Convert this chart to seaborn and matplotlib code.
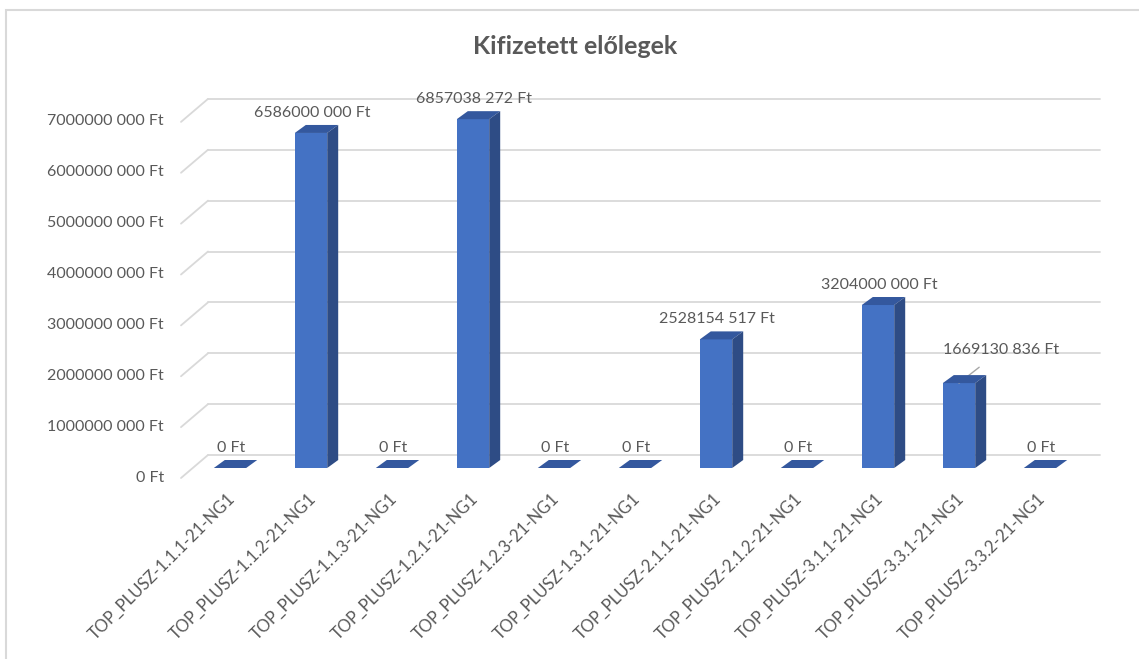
import numpy as np
import matplotlib
matplotlib.use("Agg")
import matplotlib.pyplot as plt
import matplotlib.transforms as mtransforms
from matplotlib.patches import Polygon, Rectangle
from matplotlib.lines import Line2D
import seaborn as sns

# --- data ---
projects = [
    "TOP_PLUSZ-1.1.1-21-NG1", "TOP_PLUSZ-1.1.2-21-NG1", "TOP_PLUSZ-1.1.3-21-NG1",
    "TOP_PLUSZ-1.2.1-21-NG1", "TOP_PLUSZ-1.2.3-21-NG1", "TOP_PLUSZ-1.3.1-21-NG1",
    "TOP_PLUSZ-2.1.1-21-NG1", "TOP_PLUSZ-2.1.2-21-NG1", "TOP_PLUSZ-3.1.1-21-NG1",
    "TOP_PLUSZ-3.3.1-21-NG1", "TOP_PLUSZ-3.3.2-21-NG1",
]
advances = [0, 6586000000, 0, 6857038272, 0, 0, 2528154517, 0, 3204000000, 1669130836, 0]
y_ticks = [0, 1e9, 2e9, 3e9, 4e9, 5e9, 6e9, 7e9]
title = "Kifizetett előlegek"

FRONT = "#4472C4"
SIDE = "#2E4C85"
TOP = "#34589E"
TEXT = "#595959"
GRID = "#D9D9D9"


def huf(v):
    v = int(round(v))
    if v < 1000:
        return f"{v} Ft"
    return f"{v // 1000} {v % 1000:03d} Ft"


sns.set_theme(style="white")
plt.rcParams["font.family"] = ["Lato", "DejaVu Sans"]

W, H = 1139, 659
fig = plt.figure(figsize=(W / 100, H / 100), dpi=100)

# axes = the plane of the bar fronts (pixel layout of the reference)
left_px, right_px, zero_px, top_px = 193, 1085, 468, 91.6
ax = fig.add_axes([left_px / W, 1 - zero_px / H, (right_px - left_px) / W, (zero_px - top_px) / H])
ax.set_facecolor("none")

sns.barplot(x=projects, y=advances, color=FRONT, width=0.4, ax=ax, saturation=1)
for p in ax.patches:
    p.set_edgecolor("none")
    p.set_zorder(3)

px_per_cat = 81
ax.set_xlim(-(230 - left_px) / px_per_cat, (right_px - 230) / px_per_cat)
ax.set_ylim(0, 7e9 * (zero_px - top_px) / 356.1)
sns.despine(ax=ax, left=True, bottom=True)

to_disp = ax.transData.transform
ident = mtransforms.IdentityTransform()

# depth offsets in pixels (display coords: y up)
back = np.array([15, 13])
front = np.array([-12, -10])
bar_depth = np.array([11, 8])

# back-wall gridlines and the left-wall diagonals
x0, x1 = ax.get_xlim()
for v in y_ticks:
    a = to_disp((x0, v))
    b = to_disp((x1, v))
    fig.add_artist(Line2D([a[0] + back[0], b[0] + back[0]], [a[1] + back[1], b[1] + back[1]],
                          transform=ident, color=GRID, lw=1.3, zorder=0))
    fig.add_artist(Line2D([a[0] + front[0], a[0] + back[0]], [a[1] + front[1], a[1] + back[1]],
                          transform=ident, color=GRID, lw=1.3, zorder=0))

# 3D side and top faces
for p, v in zip(ax.patches, advances):
    bl = to_disp((p.get_x(), 0))
    tr = to_disp((p.get_x() + p.get_width(), v))
    dx, dy = bar_depth
    top_face = [(bl[0], tr[1]), (tr[0], tr[1]), (tr[0] + dx, tr[1] + dy), (bl[0] + dx, tr[1] + dy)]
    fig.add_artist(Polygon(top_face, closed=True, transform=ident, facecolor=TOP,
                           edgecolor="none", zorder=4))
    if v > 0:
        side = [(tr[0], bl[1]), (tr[0], tr[1]), (tr[0] + dx, tr[1] + dy), (tr[0] + dx, bl[1] + dy)]
        fig.add_artist(Polygon(side, closed=True, transform=ident, facecolor=SIDE,
                               edgecolor="none", zorder=4))

# data labels
for i, v in enumerate(advances):
    if i == 9:
        ax.annotate(huf(v), xy=(i, v), xytext=(42, 33), textcoords="offset pixels",
                    ha="center", va="center", fontsize=11.5, color=TEXT, zorder=6,
                    arrowprops=dict(arrowstyle="-", color="#A6A6A6", lw=1,
                                    shrinkA=8, shrinkB=0))
    else:
        ax.annotate(huf(v), xy=(i, v), xytext=(1, 20), textcoords="offset pixels",
                    ha="center", va="center", fontsize=11.5, color=TEXT, zorder=6)

# axis labels
ax.set_yticks(y_ticks)
ax.set_yticklabels([huf(v) for v in y_ticks], fontsize=11.5, color=TEXT)
ax.tick_params(axis="y", length=0, pad=21)
shift_y = mtransforms.ScaledTranslation(0, -8 / 100, fig.dpi_scale_trans)
for lab in ax.get_yticklabels():
    lab.set_transform(lab.get_transform() + shift_y)

ax.set_xticks(range(len(projects)))
ax.set_xticklabels(projects, rotation=45, ha="right", rotation_mode="anchor",
                   fontsize=12, color=TEXT)
ax.tick_params(axis="x", length=0, pad=16)
shift_x = mtransforms.ScaledTranslation(-3 / 100, 0, fig.dpi_scale_trans)
for lab in ax.get_xticklabels():
    lab.set_transform(lab.get_transform() + shift_x)

ax.set_xlabel("")
ax.set_ylabel("")
ax.grid(False)

fig.text(575 / W, 1 - 47 / H, title, ha="center", va="center", fontsize=18,
         fontweight="bold", color=TEXT)

# chart frame (cropped at right and bottom)
fig.add_artist(Rectangle((6 / W, -0.1), 1.2, 1 - 10 / H + 0.1, transform=fig.transFigure,
                         fill=False, edgecolor=GRID, lw=1.5))

fig.savefig("out.png", dpi=100)
